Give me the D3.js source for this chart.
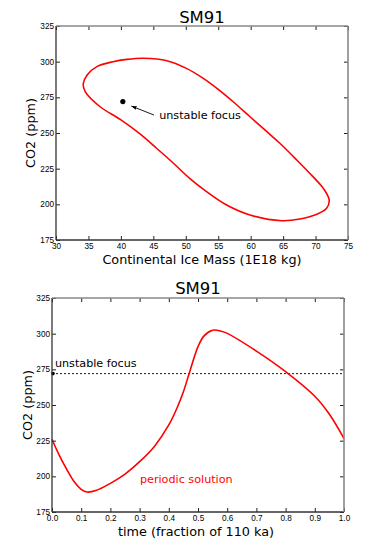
<!DOCTYPE html>
<html>
<head>
<meta charset="utf-8">
<script src="https://cdn.jsdelivr.net/npm/d3@7"></script>
<style>
  body { margin: 0; background: #fff; }
  svg { display: block; font-family: "DejaVu Sans", sans-serif; }
  .tick text { font-size: 8.2px; fill: #000; }
  .tick line { stroke: #222; }
</style>
</head>
<body>
<div id="chart"></div>
<script>
// Limit cycle (phase plane) : ice mass vs CO2
const loopIce = [43.5, 47.1, 50.1, 52.7, 55.0, 57.3, 59.9, 62.5, 64.5, 67.1, 69.6, 71.2, 72.1, 71.7, 70.2, 67.6, 64.8, 59.9, 56.3, 53.2, 50.6, 48.1, 45.5, 42.9, 39.9, 36.8, 34.5, 34.2, 34.8, 36.3, 38.8, 40.9];
const loopCO2 = [302.4, 300.7, 295.3, 288.3, 280.6, 271.9, 261.4, 250.9, 242.8, 231.1, 219.4, 211.2, 203.0, 197.2, 193.0, 189.7, 188.5, 192.5, 199.5, 208.9, 218.2, 228.8, 239.3, 249.5, 259.5, 268.4, 279.0, 284.5, 290.7, 296.5, 300.0, 301.6];

// Periodic solution over time
const timeFrac = [0, 0.025, 0.05, 0.075, 0.1, 0.12, 0.15, 0.2, 0.25, 0.3, 0.35, 0.4, 0.43, 0.45, 0.47, 0.5, 0.52, 0.55, 0.58, 0.6, 0.7, 0.8, 0.9, 0.95, 1.0];
const timeCO2 = [226.0, 214.7, 205.1, 196.5, 190.9, 189.0, 190.0, 195.1, 201.6, 210.3, 220.8, 236.0, 248.8, 259.3, 272.2, 290.9, 298.3, 302.4, 301.7, 300.2, 287.8, 273.4, 256.1, 243.5, 226.5];

// Unstable focus
const focusIce = 40.3;
const focusCO2 = 272;

const iceTicks = [30, 35, 40, 45, 50, 55, 60, 65, 70, 75];
const timeTicks = [0, 0.1, 0.2, 0.3, 0.4, 0.5, 0.6, 0.7, 0.8, 0.9, 1.0];
const co2Ticks = [175, 200, 225, 250, 275, 300, 325];

const W = 374, H = 538;
const svg = d3.select("#chart").append("svg").attr("width", W).attr("height", H);

// Dessine un cadre avec des ticks vers l'intérieur sur les 4 côtés
function drawFrame(g, x, y, xTicks, xFmt) {
    const [x0, x1] = x.range();
    const [y0, y1] = y.range();
    g.append("g").attr("transform", `translate(0,${y0})`)
        .call(d3.axisBottom(x).tickValues(xTicks).tickFormat(xFmt).tickSizeInner(-4).tickSizeOuter(0).tickPadding(3.5))
        .call(a => a.select(".domain").remove());
    g.append("g").attr("transform", `translate(0,${y1})`)
        .call(d3.axisTop(x).tickValues(xTicks).tickFormat("").tickSizeInner(-4).tickSizeOuter(0))
        .call(a => a.select(".domain").remove());
    g.append("g").attr("transform", `translate(${x0},0)`)
        .call(d3.axisLeft(y).tickValues(co2Ticks).tickFormat(d3.format("d")).tickSizeInner(-4).tickSizeOuter(0).tickPadding(2))
        .call(a => a.select(".domain").remove());
    g.append("g").attr("transform", `translate(${x1},0)`)
        .call(d3.axisRight(y).tickValues(co2Ticks).tickFormat("").tickSizeInner(-4).tickSizeOuter(0))
        .call(a => a.select(".domain").remove());
    // spines
    g.append("line").attr("x1", x0).attr("x2", x0).attr("y1", y0).attr("y2", y1).attr("stroke", "#333").attr("stroke-width", 1.3);
    g.append("line").attr("x1", x0).attr("x2", x1).attr("y1", y0).attr("y2", y0).attr("stroke", "#333").attr("stroke-width", 1.3);
    g.append("line").attr("x1", x1).attr("x2", x1).attr("y1", y0).attr("y2", y1).attr("stroke", "#888").attr("stroke-width", 1.6);
    g.append("line").attr("x1", x0).attr("x2", x1).attr("y1", y1).attr("y2", y1).attr("stroke", "#888").attr("stroke-width", 1.6);
}

// ---- top chart ----
const xIce = d3.scaleLinear().domain([30, 75]).range([56, 348]);
const yTop = d3.scaleLinear().domain([175, 325]).range([240, 26]);
const topChart = svg.append("g");

const loopPts = loopIce.map((v, i) => [v, loopCO2[i]]);
topChart.append("path")
    .datum(loopPts)
    .attr("fill", "none")
    .attr("stroke", "#ff0000")
    .attr("stroke-width", 1.6)
    .attr("d", d3.line().x(d => xIce(d[0])).y(d => yTop(d[1])).curve(d3.curveCatmullRomClosed));

topChart.append("circle").attr("cx", xIce(focusIce)).attr("cy", yTop(focusCO2)).attr("r", 2.6).attr("fill", "#000");

svg.append("defs").append("marker")
    .attr("id", "arrow")
    .attr("viewBox", "0 -5 10 10")
    .attr("refX", 10).attr("refY", 0)
    .attr("markerWidth", 6).attr("markerHeight", 6)
    .attr("orient", "auto")
    .append("path").attr("d", "M0,-3.5L10,0L0,3.5").attr("fill", "#000");

// annotation (coords en données)
topChart.append("line")
    .attr("x1", xIce(45.1)).attr("y1", yTop(262.6))
    .attr("x2", xIce(41.6)).attr("y2", yTop(268.9))
    .attr("stroke", "#000").attr("stroke-width", 0.9)
    .attr("marker-end", "url(#arrow)");
topChart.append("text")
    .attr("x", xIce(45.9)).attr("y", yTop(259.8))
    .attr("font-size", 11.2)
    .text("unstable focus");

drawFrame(topChart, xIce, yTop, iceTicks, d3.format("d"));

topChart.append("text").attr("x", 202).attr("y", 22.5).attr("text-anchor", "middle")
    .attr("font-size", 16.5).text("SM91");
topChart.append("text").attr("x", 202).attr("y", 263.5).attr("text-anchor", "middle")
    .attr("font-size", 12.8).text("Continental Ice Mass (1E18 kg)");
topChart.append("text").attr("transform", `translate(35,${(26 + 240) / 2}) rotate(-90)`)
    .attr("text-anchor", "middle").attr("font-size", 12.8).text("CO2 (ppm)");

// ---- bottom chart ----
const xTime = d3.scaleLinear().domain([0, 1]).range([52, 344]);
const yBot = d3.scaleLinear().domain([175, 325]).range([512, 298]);
const botChart = svg.append("g");

botChart.append("line")
    .attr("x1", xTime(0)).attr("x2", xTime(1))
    .attr("y1", yBot(focusCO2)).attr("y2", yBot(focusCO2))
    .attr("stroke", "#000").attr("stroke-width", 0.9)
    .attr("stroke-dasharray", "2,2");
botChart.append("circle").attr("cx", xTime(0) + 1).attr("cy", yBot(focusCO2)).attr("r", 1.8).attr("fill", "#000");

const timePts = timeFrac.map((t, i) => [t, timeCO2[i]]);
botChart.append("path")
    .datum(timePts)
    .attr("fill", "none")
    .attr("stroke", "#ff0000")
    .attr("stroke-width", 1.6)
    .attr("d", d3.line().x(d => xTime(d[0])).y(d => yBot(d[1])).curve(d3.curveCatmullRom));

botChart.append("text").attr("x", xTime(0.01)).attr("y", yBot(276.9))
    .attr("font-size", 11.2).text("unstable focus");
botChart.append("text").attr("x", xTime(0.301)).attr("y", yBot(195.6))
    .attr("font-size", 11.2).attr("fill", "#ff0000").text("periodic solution");

drawFrame(botChart, xTime, yBot, timeTicks, d3.format(".1f"));

botChart.append("text").attr("x", 198).attr("y", 293.5).attr("text-anchor", "middle")
    .attr("font-size", 16.5).text("SM91");
botChart.append("text").attr("x", 196).attr("y", 535.5).attr("text-anchor", "middle")
    .attr("font-size", 12.8).text("time (fraction of 110 ka)");
botChart.append("text").attr("transform", `translate(32,${(298 + 512) / 2}) rotate(-90)`)
    .attr("text-anchor", "middle").attr("font-size", 12.8).text("CO2 (ppm)");
</script>
</body>
</html>
